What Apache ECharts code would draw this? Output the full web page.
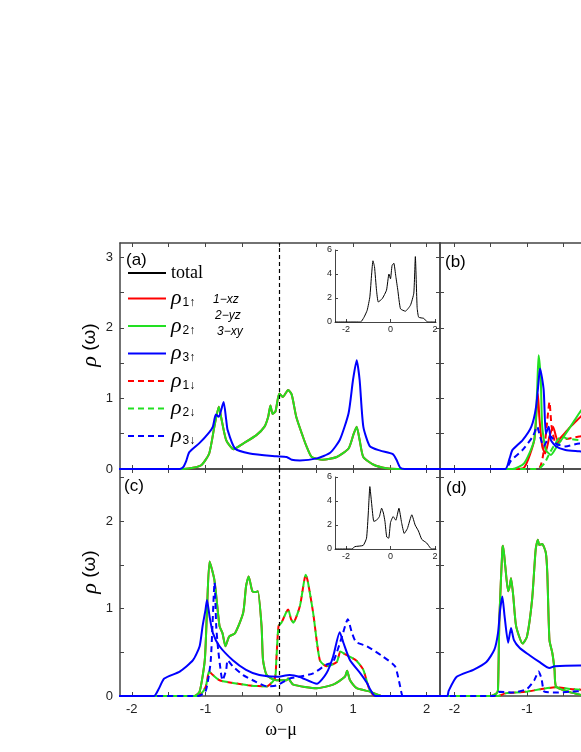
<!DOCTYPE html>
<html>
<head>
<meta charset="utf-8">
<script src="https://cdn.jsdelivr.net/npm/echarts@6/dist/echarts.min.js"></script>
<style>
  html, body { margin: 0; padding: 0; background: #fff; }
  #chart { width: 581px; height: 752px; }
</style>
</head>
<body>
<div id="chart"></div>
<script>
// ---- data: [omega - mu, rho] pairs ----
// (a) rho1 and rho2 coincide, spin up == spin down
const aUp12 = [[-2.2,0],[-1.3,0],[-1.15,0.02],[-1.05,0.06],[-0.95,0.22],[-0.88,0.6],[-0.82,0.88],[-0.79,0.74],[-0.72,0.41],[-0.62,0.28],[-0.49,0.36],[-0.31,0.48],[-0.2,0.6],[-0.15,0.74],[-0.12,0.9],[-0.09,0.78],[-0.05,0.82],[0.0,1.07],[0.05,1.02],[0.12,1.12],[0.17,1.05],[0.23,0.74],[0.32,0.46],[0.37,0.32],[0.44,0.17],[0.59,0.13],[0.78,0.17],[0.94,0.29],[1.01,0.5],[1.05,0.6],[1.09,0.41],[1.14,0.17],[1.28,0.06],[1.45,0.01],[1.6,0],[2.2,0]];
const aUp3 = [[-2.2,0],[-1.35,0],[-1.3,0.03],[-1.26,0.12],[-1.22,0.24],[-1.08,0.37],[-0.95,0.52],[-0.9,0.6],[-0.86,0.77],[-0.82,0.74],[-0.755,0.95],[-0.72,0.7],[-0.7,0.55],[-0.6,0.29],[-0.4,0.22],[-0.04,0.18],[0.1,0.17],[0.17,0.13],[0.28,0.12],[0.51,0.15],[0.69,0.23],[0.82,0.41],[0.94,0.79],[1.0,1.26],[1.05,1.54],[1.09,1.26],[1.14,0.6],[1.23,0.32],[1.37,0.26],[1.54,0.21],[1.59,0.13],[1.64,0.02],[1.7,0],[2.2,0]];
const insetA = [[-2.5,0],[-1.35,0],[-1.2,0.37],[-1.05,0.98],[-0.93,2.1],[-0.85,4.0],[-0.79,5.1],[-0.72,4.6],[-0.63,2.65],[-0.55,1.67],[-0.37,1.95],[-0.18,2.65],[-0.07,4.0],[0.0,3.6],[0.07,4.7],[0.15,4.9],[0.24,3.8],[0.33,2.65],[0.45,1.1],[0.67,0.9],[0.9,1.4],[1.05,2.4],[1.12,5.45],[1.2,1.2],[1.27,0.4],[1.5,0.3],[1.67,0],[2.05,0]];

// (b)
const bUp1 = [[-2.2,0],[-1.2,0],[-1.04,0.02],[-0.9,0.41],[-0.85,1.07],[-0.83,0.74],[-0.79,0.32],[-0.75,0.22],[-0.69,0.46],[-0.64,0.6],[-0.58,0.41],[-0.52,0.46],[-0.4,0.6],[-0.28,0.72],[-0.2,0.8]];
const bUp2 = [[-2.2,0],[-1.2,0],[-1.04,0.08],[-0.9,0.41],[-0.86,1.12],[-0.84,1.61],[-0.81,1.26],[-0.79,0.6],[-0.74,0.27],[-0.67,0.2],[-0.6,0.3],[-0.5,0.45],[-0.4,0.6],[-0.28,0.79],[-0.2,0.9]];
const bUp3 = [[-2.2,0],[-1.3,0],[-1.24,0.15],[-1.2,0.27],[-1.06,0.41],[-0.94,0.6],[-0.875,0.88],[-0.83,1.35],[-0.82,1.42],[-0.77,1.12],[-0.74,0.5],[-0.7,0.6],[-0.67,0.41],[-0.6,0.32],[-0.47,0.27],[-0.28,0.25],[-0.2,0.24]];
const bDn1 = [[-2.2,0],[-0.85,0],[-0.76,0.32],[-0.72,0.69],[-0.69,0.95],[-0.66,0.6],[-0.6,0.36],[-0.52,0.41],[-0.28,0.46],[-0.2,0.47]];
const bDn2 = [[-2.2,0],[-0.85,0],[-0.76,0.08],[-0.69,0.22],[-0.61,0.36],[-0.53,0.46],[-0.44,0.43],[-0.28,0.41],[-0.2,0.41]];
const bDn3 = [[-2.2,0],[-1.3,0],[-1.22,0.12],[-1.06,0.27],[-0.92,0.46],[-0.86,0.6],[-0.82,0.46],[-0.77,0.32],[-0.72,0.41],[-0.67,0.46],[-0.6,0.36],[-0.47,0.32],[-0.28,0.36],[-0.2,0.36]];

// (c) rho1 and rho2 coincide
const cUp12 = [[-2.2,0],[-1.15,0],[-1.08,0.05],[-1.01,0.41],[-0.98,0.99],[-0.945,1.54],[-0.88,1.33],[-0.81,0.8],[-0.77,0.72],[-0.73,0.57],[-0.68,0.68],[-0.6,0.72],[-0.49,0.95],[-0.45,1.26],[-0.415,1.37],[-0.365,1.2],[-0.32,1.19],[-0.29,1.2],[-0.24,0.8],[-0.22,0.41],[-0.17,0.24],[-0.04,0.18],[0.1,0.18],[0.12,0.2],[0.19,0.13],[0.51,0.09],[0.73,0.13],[0.89,0.22],[0.92,0.29],[0.96,0.18],[1.05,0.09],[1.23,0.05],[1.4,0],[2.2,0]];
const cUp3 = [[-2.2,0],[-1.7,0],[-1.63,0.09],[-1.56,0.2],[-1.35,0.28],[-1.17,0.41],[-1.08,0.57],[-1.04,0.8],[-1.0,0.99],[-0.98,1.1],[-0.945,0.91],[-0.9,0.72],[-0.81,0.57],[-0.63,0.41],[-0.45,0.3],[-0.27,0.24],[-0.04,0.22],[0.14,0.24],[0.27,0.22],[0.51,0.14],[0.64,0.26],[0.73,0.45],[0.82,0.73],[0.87,0.61],[0.96,0.41],[1.1,0.26],[1.19,0.15],[1.23,0.08],[1.3,0],[2.2,0]];
const cDn12 = [[-2.2,0],[-1.1,0],[-1.0,0.1],[-0.95,0.28],[-0.9,0.24],[-0.81,0.18],[-0.63,0.15],[-0.4,0.12],[-0.17,0.11],[-0.06,0.2],[-0.04,0.41],[-0.01,0.8],[0.03,0.84],[0.12,0.99],[0.16,0.88],[0.19,0.84],[0.28,1.03],[0.36,1.39],[0.39,1.3],[0.46,0.95],[0.55,0.41],[0.64,0.34],[0.78,0.39],[0.83,0.51],[0.91,0.47],[1.04,0.41],[1.14,0.3],[1.22,0.08],[1.3,0],[2.2,0]];
const cDn3 = [[-2.2,0],[-1.1,0],[-1.0,0.05],[-0.93,0.4],[-0.877,1.3],[-0.855,0.8],[-0.83,0.54],[-0.79,0.26],[-0.77,0.18],[-0.72,0.3],[-0.7,0.41],[-0.63,0.34],[-0.49,0.24],[-0.31,0.16],[-0.17,0.11],[-0.04,0.12],[0.14,0.2],[0.27,0.22],[0.46,0.26],[0.64,0.36],[0.73,0.39],[0.85,0.68],[0.93,0.88],[0.98,0.74],[1.04,0.62],[1.19,0.57],[1.41,0.45],[1.57,0.34],[1.64,0.11],[1.68,0],[2.2,0]];
const insetC = [[-2.5,0],[-1.75,0],[-1.6,0.2],[-1.23,0.3],[-1.08,0.9],[-1.0,3.0],[-0.93,5.2],[-0.85,3.8],[-0.75,2.3],[-0.63,2.4],[-0.5,2.7],[-0.4,3.4],[-0.32,3.0],[-0.25,2.3],[-0.17,1.0],[-0.08,0.9],[0.0,2.2],[0.12,2.7],[0.24,2.4],[0.38,3.4],[0.5,2.2],[0.62,1.3],[0.76,1.7],[0.96,2.85],[1.11,2.0],[1.26,1.5],[1.41,0.8],[1.63,0.5],[1.79,0.1],[1.85,0],[2.05,0]];

// (d) rho1 and rho2 coincide
const dUp12 = [[-2.2,0],[-1.5,0],[-1.42,0.03],[-1.4,0.07],[-1.38,0.91],[-1.34,1.68],[-1.33,1.72],[-1.3,1.49],[-1.26,1.2],[-1.24,1.25],[-1.22,1.35],[-1.19,1.15],[-1.15,0.8],[-1.06,0.6],[-1.0,0.68],[-0.93,1.1],[-0.88,1.68],[-0.85,1.79],[-0.83,1.73],[-0.79,1.74],[-0.74,1.64],[-0.72,1.41],[-0.69,0.64],[-0.65,0.49],[-0.62,0.3],[-0.6,0.11],[-0.43,0.05],[-0.3,0.02],[-0.2,0]];
const dUp3 = [[-2.2,0],[-2.1,0],[-2.08,0.06],[-1.97,0.22],[-1.74,0.3],[-1.56,0.39],[-1.45,0.53],[-1.4,0.72],[-1.37,0.99],[-1.34,1.14],[-1.31,0.92],[-1.26,0.61],[-1.22,0.78],[-1.18,0.64],[-1.1,0.55],[-0.97,0.47],[-0.83,0.39],[-0.69,0.32],[-0.62,0.34],[-0.28,0.35],[-0.2,0.35]];
const dDn12 = [[-2.2,0],[-1.4,0],[-1.3,0.03],[-1.0,0.05],[-0.8,0.08],[-0.6,0.1],[-0.4,0.08],[-0.2,0.07]];
const dDn3 = [[-2.2,0],[-1.45,0],[-1.38,0.05],[-1.2,0.04],[-1.0,0.08],[-0.9,0.18],[-0.84,0.28],[-0.8,0.2],[-0.76,0.05],[-0.6,0.04],[-0.4,0.05],[-0.2,0.06]];

// tick positions / labels
const xTicks = [-2, -1.5, -1, -0.5, 0, 0.5, 1, 1.5, 2];
const xLabels = [-2, -1, 0, 1, 2];
const yTicksTop = [0, 0.5, 1, 1.5, 2, 2.5, 3];
const yLabelsTop = [0, 1, 2, 3];
const yTicksBot = [0, 0.5, 1, 1.5, 2, 2.5];
const yLabelsBot = [0, 1, 2];
const insetXTicks = [-2, 0, 2];
const insetYTicks = [0, 2, 4, 6];

const RED = '#ff0000', GREEN = '#22e022', BLUE = '#0000ff';
const FONT = 'Liberation Sans';
const AXIS = '#444';

// right-hand panels are cut by the page edge: only their left part is shown
const panels = [
  { left: 120, top: 243, width: 320, height: 226, xmin: -2.16, xmax: 2.18, ymax: 3.2, yt: yTicksTop, yl: yLabelsTop, showX: false, showY: true, right: true },
  { left: 440, top: 243, width: 142, height: 226, xmin: -2.2, xmax: -0.255, ymax: 3.2, yt: yTicksTop, yl: [], showX: false, showY: false, right: false },
  { left: 120, top: 469, width: 320, height: 227, xmin: -2.16, xmax: 2.18, ymax: 2.6, yt: yTicksBot, yl: yLabelsBot, showX: true, showY: true, right: true },
  { left: 440, top: 469, width: 142, height: 227, xmin: -2.2, xmax: -0.255, ymax: 2.6, yt: yTicksBot, yl: [], showX: true, showY: false, right: false }
];
const insets = [
  { left: 335, top: 250, width: 101, height: 72 },
  { left: 335, top: 477, width: 101, height: 72 }
];

const grid = [], xAxis = [], yAxis = [];
function ax(gi, pos, min, max, ticks, labels, show, size) {
  return {
    type: 'value', gridIndex: gi, position: pos, min: min, max: max,
    axisLine: { onZero: false, lineStyle: { color: AXIS, width: size ? 1 : 1.5 } },
    axisTick: { inside: true, length: size ? 3 : 4, customValues: ticks, lineStyle: { color: AXIS, width: 1 } },
    axisLabel: { show: show, customValues: labels, color: '#222', fontFamily: FONT, fontSize: size || 13, margin: size ? 3 : 7 },
    splitLine: { show: false }
  };
}
panels.forEach((p, i) => {
  grid.push({ left: p.left, top: p.top, width: p.width, height: p.height });
  xAxis.push(ax(i, 'bottom', p.xmin, p.xmax, xTicks, xLabels, p.showX));
  xAxis.push(ax(i, 'top', p.xmin, p.xmax, xTicks, [], false));
  yAxis.push(ax(i, 'left', 0, p.ymax, p.yt, p.yl, p.showY));
  const r = ax(i, 'right', 0, p.ymax, p.yt, [], false);
  r.show = p.right;
  yAxis.push(r);
});
insets.forEach((p, k) => {
  const gi = 4 + k;
  grid.push({ left: p.left, top: p.top, width: p.width, height: p.height });
  xAxis.push(ax(gi, 'bottom', -2.5, 2.05, insetXTicks, insetXTicks, true, 9));
  yAxis.push(ax(gi, 'left', 0, 6, insetYTicks, insetYTicks, true, 9));
});

function line(name, data, gi, color, dashed, extra) {
  const axisIdx = gi < 4 ? gi * 2 : 8 + (gi - 4);
  return Object.assign({
    name: name, type: 'line', data: data,
    xAxisIndex: axisIdx, yAxisIndex: axisIdx,
    showSymbol: false, symbol: 'none', smooth: 0.2,
    color: color,
    lineStyle: { color: color, width: 2, type: dashed ? [6, 4] : 'solid' },
    animation: false, silent: true
  }, extra || {});
}
const zeroLine = {
  markLine: {
    silent: true, symbol: 'none', label: { show: false }, animation: false,
    lineStyle: { color: '#000', type: [4, 3], width: 1.2 },
    data: [{ xAxis: 0 }]
  }
};
const offsetDash = { lineStyle: { color: GREEN, width: 2, type: [6, 4], dashOffset: 5 } };

const series = [
  // (a)
  line('ρ1↑', aUp12, 0, RED, false),
  line('ρ2↑', aUp12, 0, GREEN, false),
  line('ρ3↑', aUp3, 0, BLUE, false, zeroLine),
  // (b)
  line('ρ1↑', bUp1, 1, RED, false),
  line('ρ1↓', bDn1, 1, RED, true),
  line('ρ2↑', bUp2, 1, GREEN, false),
  line('ρ2↓', bDn2, 1, GREEN, true),
  line('ρ3↑', bUp3, 1, BLUE, false),
  line('ρ3↓', bDn3, 1, BLUE, true),
  // (c)
  line('ρ1↑', cUp12, 2, RED, false),
  line('ρ2↑', cUp12, 2, GREEN, false),
  line('ρ1↓', cDn12, 2, RED, true),
  line('ρ2↓', cDn12, 2, GREEN, true, offsetDash),
  line('ρ3↑', cUp3, 2, BLUE, false),
  line('ρ3↓', cDn3, 2, BLUE, true, zeroLine),
  // (d)
  line('ρ1↓', dDn12, 3, RED, true),
  line('ρ2↓', dDn12, 3, GREEN, true, offsetDash),
  line('ρ1↑', dUp12, 3, RED, false),
  line('ρ2↑', dUp12, 3, GREEN, false),
  line('ρ3↑', dUp3, 3, BLUE, false),
  line('ρ3↓', dDn3, 3, BLUE, true),
  // insets: total DOS
  line('total', insetA, 4, '#000', false, { lineStyle: { color: '#000', width: 1 }, smooth: 0.15 }),
  line('total', insetC, 5, '#000', false, { lineStyle: { color: '#000', width: 1 }, smooth: 0.15 })
];

const legendNames = ['total', 'ρ1↑', 'ρ2↑', 'ρ3↑', 'ρ1↓', 'ρ2↓', 'ρ3↓'];

const chart = echarts.init(document.getElementById('chart'));
chart.setOption({
  backgroundColor: '#fff',
  animation: false,
  grid: grid,
  xAxis: xAxis,
  yAxis: yAxis,
  legend: {
    orient: 'vertical', left: 127, top: 264, padding: 0,
    itemWidth: 38, itemHeight: 12, itemGap: 5.5,
    selectedMode: false,
    itemStyle: { opacity: 0 },
    data: legendNames.map(n => n === 'total' ? { name: n, lineStyle: { width: 2 } } : { name: n }),
    formatter: n => n === 'total' ? '{t|total}' : '{r|ρ}{s|' + n.slice(1) + '}',
    textStyle: {
      color: '#000',
      rich: {
        t: { fontFamily: 'Liberation Serif', fontSize: 18, lineHeight: 22, color: '#000' },
        r: { fontFamily: 'Liberation Serif', fontStyle: 'italic', fontSize: 22, lineHeight: 22, color: '#000' },
        s: { fontFamily: FONT, fontSize: 12, padding: [9, 0, 0, 1], color: '#000' }
      }
    }
  },
  graphic: [
    { type: 'text', left: 126, top: 252, style: { text: '(a)', font: '17px "Liberation Sans"', fill: '#000' } },
    { type: 'text', left: 445, top: 254, style: { text: '(b)', font: '17px "Liberation Sans"', fill: '#000' } },
    { type: 'text', left: 124, top: 478, style: { text: '(c)', font: '17px "Liberation Sans"', fill: '#000' } },
    { type: 'text', left: 446, top: 480, style: { text: '(d)', font: '17px "Liberation Sans"', fill: '#000' } },
    { type: 'text', left: 213, top: 294, style: { text: '1−xz', font: 'italic 12px "Liberation Sans"', fill: '#000' } },
    { type: 'text', left: 215, top: 310, style: { text: '2−yz', font: 'italic 12px "Liberation Sans"', fill: '#000' } },
    { type: 'text', left: 217, top: 326, style: { text: '3−xy', font: 'italic 12px "Liberation Sans"', fill: '#000' } },
    { type: 'text', x: 90, y: 345, rotation: Math.PI / 2,
      style: { text: '{i|ρ} (ω)', align: 'center', verticalAlign: 'middle',
        rich: { i: { fontFamily: 'Liberation Serif', fontStyle: 'italic', fontSize: 22 } },
        font: '19px "Liberation Sans"', fill: '#000' } },
    { type: 'text', x: 90, y: 572, rotation: Math.PI / 2,
      style: { text: '{i|ρ} (ω)', align: 'center', verticalAlign: 'middle',
        rich: { i: { fontFamily: 'Liberation Serif', fontStyle: 'italic', fontSize: 22 } },
        font: '19px "Liberation Sans"', fill: '#000' } },
    { type: 'text', x: 281, y: 730, style: { text: 'ω−μ', align: 'center', verticalAlign: 'middle',
        font: '18px "Liberation Serif"', fill: '#000' } }
  ],
  series: series
});
</script>
</body>
</html>
